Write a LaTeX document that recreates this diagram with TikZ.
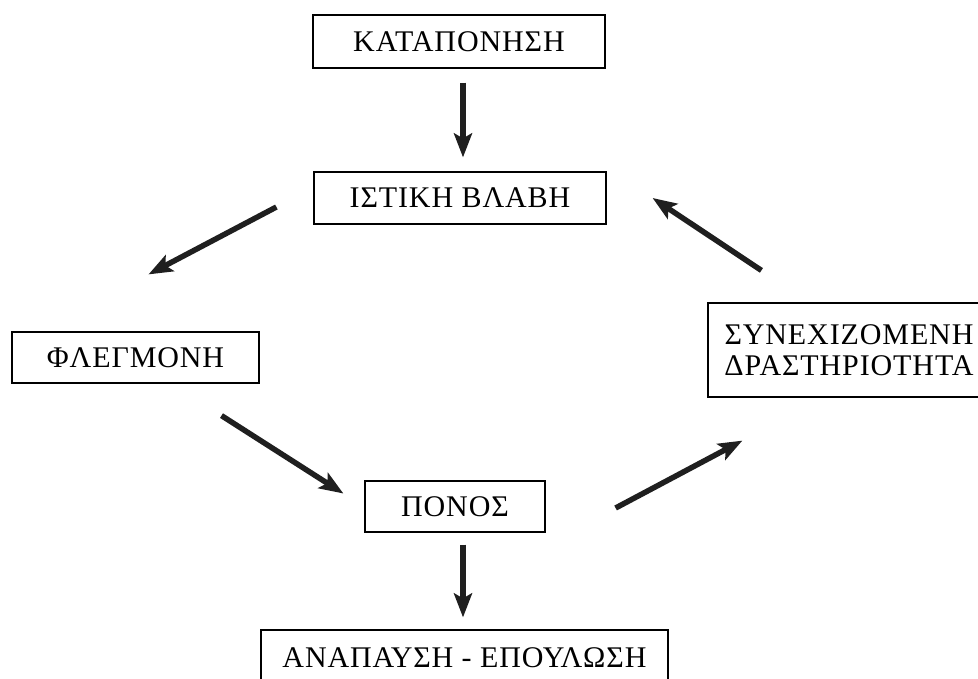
\documentclass[tikz,border=0pt]{standalone}
\usepackage{fontspec}
\setmainfont[LetterSpace=3]{Liberation Serif}
\usetikzlibrary{
	positioning				% relative placement
	, arrows.meta			% Stealth tips
}

\begin{document}
\begin{tikzpicture}[x=1pt, y=-1pt
		, stagebox/.style={draw, rectangle, line width=1.2pt, inner sep=0pt, font=\fontsize{30}{31}\selectfont}
		, flowarrow/.style={-{Stealth[length=24pt, width=18pt, inset=5pt]}, line width=5.5pt, color=black!88}]

		\clip (0,0) rectangle (978,678);

		%%% Stages
		\node[stagebox, minimum width=292pt, minimum height=53pt] (kataponisi) at (459, 41.5) {ΚΑΤΑΠΟΝΗΣΗ};
		\node[stagebox, minimum width=292pt, minimum height=52pt] (istiki) at (460, 198) {ΙΣΤΙΚΗ ΒΛΑΒΗ};
		\node[stagebox, minimum width=247pt, minimum height=51pt] (flegmoni) at (135.5, 357.5) {ΦΛΕΓΜΟΝΗ};
		\node[stagebox, minimum width=180pt, minimum height=51pt] (ponos) at (455, 506.5) {ΠΟΝΟΣ};
		\node[stagebox, minimum width=282pt, minimum height=94pt, align=center] (drastiriotita) at (849, 350) {ΣΥΝΕΧΙΖΟΜΕΝΗ\\ΔΡΑΣΤΗΡΙΟΤΗΤΑ};
		\node[stagebox, minimum width=407pt, minimum height=56pt] (anapausi) at (464.5, 658) {ΑΝΑΠΑΥΣΗ - ΕΠΟΥΛΩΣΗ};

		%%% Flow
		%% Main line
		\draw[flowarrow] ([xshift=4pt, yshift=-14pt]kataponisi.south) -- ([xshift=3pt, yshift=14pt]istiki.north);

		%% Cycle
		\draw[flowarrow] ([xshift=-37pt, yshift=-9pt]istiki.west) -- ([xshift=13pt, yshift=57pt]flegmoni.north);
		\draw[flowarrow] ([xshift=86pt, yshift=-32pt]flegmoni.south) -- ([xshift=-21pt, yshift=13pt]ponos.west);
		\draw[flowarrow] ([xshift=70pt, yshift=-1.5pt]ponos.east) -- ([xshift=35pt, yshift=-43pt]drastiriotita.south west);
		\draw[flowarrow] ([xshift=54pt, yshift=32pt]drastiriotita.north west) -- ([xshift=46pt]istiki.east);

		%% Rest
		\draw[flowarrow] ([xshift=8pt, yshift=-12pt]ponos.south) -- ([xshift=-1.5pt, yshift=12pt]anapausi.north);
	\end{tikzpicture}
\end{document}
